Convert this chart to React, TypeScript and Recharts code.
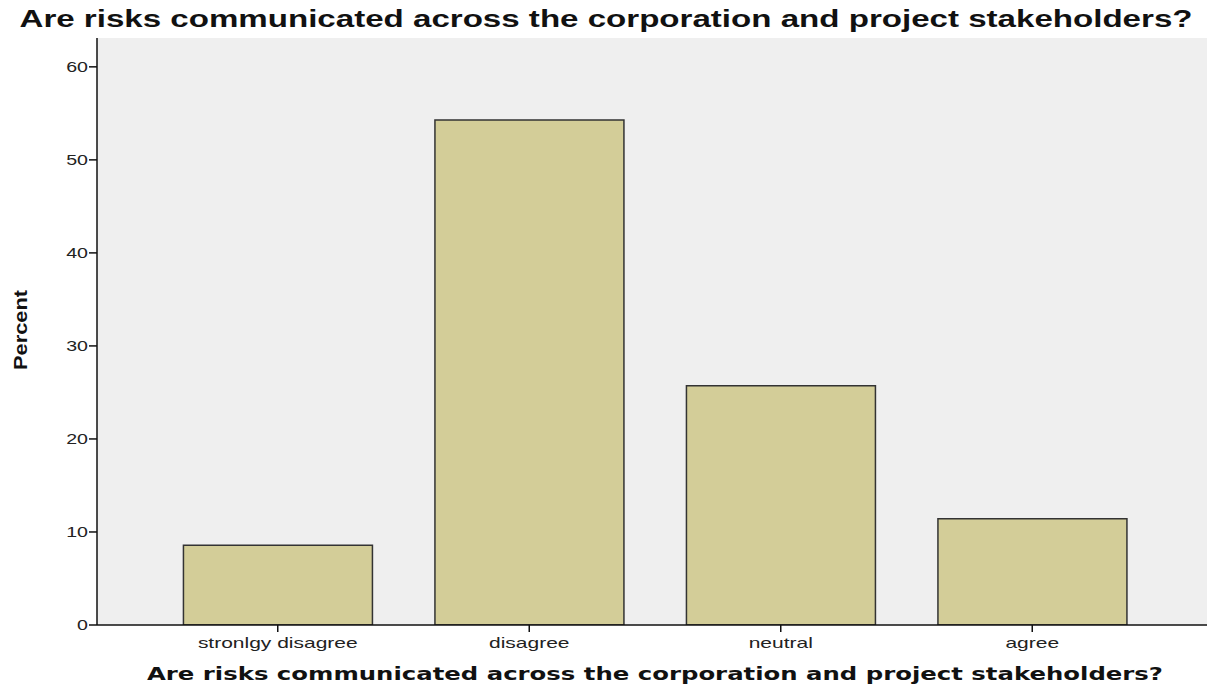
import { BarChart, Bar, XAxis, YAxis, CartesianGrid } from 'recharts'

const categories = ['stronlgy disagree', 'disagree', 'neutral', 'agree']
const percents = [8.57, 54.29, 25.71, 11.43]
const yTicks = [0, 10, 20, 30, 40, 50, 60]

const QUESTION = 'Are risks communicated across the corporation and project stakeholders?'

const data = categories.map((c, i) => ({ name: c, pct: percents[i] }))

const tickFont = "'Liberation Sans', Arial, sans-serif"

// source image is stretched sideways, so ticks get a horizontal scale
function XTick(props: any){
  const { x, y, payload } = props
  return (
    <g transform={`translate(${x},${y + 14}) scale(1.5,1)`}>
      <text textAnchor="middle" fontSize={14} fontFamily={tickFont} fill="#222">{payload.value}</text>
    </g>
  )
}

function YTick(props: any){
  const { x, y, payload } = props
  return (
    <g transform={`translate(${x},${y + 5}) scale(1.4,1)`}>
      <text textAnchor="end" fontSize={14} fontFamily={tickFont} fill="#222">{payload.value}</text>
    </g>
  )
}

export default function App(){
  return (
    <div style={{ position: 'absolute', left: 0, top: 0, width: 1213, height: 689, background: '#fff' }}>
      <BarChart width={1213} height={689} data={data}
        margin={{ top: 38, right: 6, left: 37, bottom: 34 }}
        barCategoryGap="12.5%">
        <CartesianGrid fill="#efefef" horizontal={false} vertical={false} />
        <XAxis xAxisId="top" dataKey="name" orientation="top" height={0} tick={false} tickLine={false}
          axisLine={{ stroke: '#888', strokeWidth: 1.5 }} padding={{ left: 55, right: 49 }} />
        <YAxis yAxisId="right" orientation="right" width={0} tick={false} tickLine={false}
          axisLine={{ stroke: '#888', strokeWidth: 1.5 }} domain={[0, 63.1]} />
        <XAxis dataKey="name" height={30} padding={{ left: 55, right: 49 }}
          axisLine={{ stroke: '#111', strokeWidth: 1.5 }} tickLine={{ stroke: '#111', strokeWidth: 1.5 }}
          tickSize={7} interval={0} tick={<XTick />} />
        <YAxis width={60} domain={[0, 63.1]} ticks={yTicks} allowDataOverflow
          axisLine={{ stroke: '#111', strokeWidth: 1.5 }} tickLine={{ stroke: '#111', strokeWidth: 1.5 }}
          tickSize={8} tickMargin={1} tick={<YTick />} />
        <Bar dataKey="pct" fill="#d3cd98" stroke="#333" strokeWidth={1.5} isAnimationActive={false} />
        <text x={606} y={27} textAnchor="middle" textLength={1173} lengthAdjust="spacingAndGlyphs"
          fontFamily={tickFont} fontWeight="bold" fontSize={23} fill="#111">{QUESTION}</text>
        <text x={655} y={680} textAnchor="middle" textLength={1016} lengthAdjust="spacingAndGlyphs"
          fontFamily="'DejaVu Sans', Verdana, sans-serif" fontWeight="bold" fontSize={18} fill="#111">{QUESTION}</text>
        <text x={0} y={0} transform="translate(27,330) rotate(-90)" textAnchor="middle" textLength={80}
          lengthAdjust="spacingAndGlyphs" fontFamily={tickFont} fontWeight="bold" fontSize={18} fill="#111">Percent</text>
      </BarChart>
    </div>
  )
}
